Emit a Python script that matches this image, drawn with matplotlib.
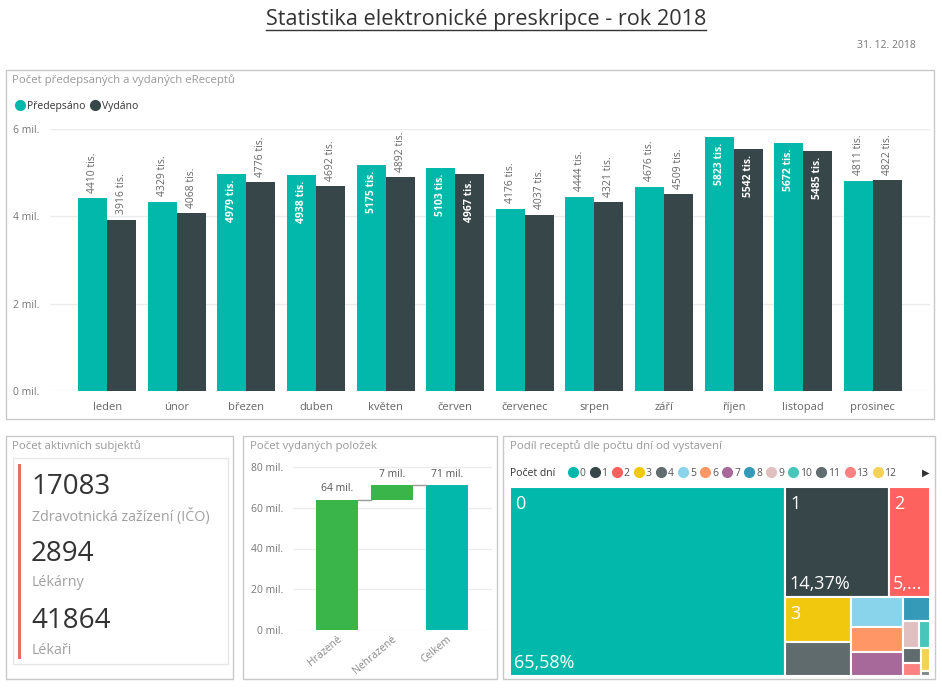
import numpy as np
import matplotlib
matplotlib.use("Agg")
import matplotlib.pyplot as plt
from matplotlib.patches import Rectangle
from matplotlib.lines import Line2D
from matplotlib import font_manager

# ---------------- data ----------------
months = ["leden", "únor", "březen", "duben", "květen", "červen",
          "červenec", "srpen", "září", "říjen", "listopad", "prosinec"]
predepsano = [4410, 4329, 4979, 4938, 5175, 5103, 4176, 4444, 4676, 5823, 5672, 4811]  # tis.
vydano = [3916, 4068, 4776, 4692, 4892, 4967, 4037, 4321, 4509, 5542, 5485, 4822]      # tis.

kpi_values = [17083, 2894, 41864]
kpi_labels = ["Zdravotnická zažízení (IČO)", "Lékárny", "Lékaři"]

wf_names = ["Hrazené", "Nehrazené"]
wf_values = [64, 7]  # mil.

days = ["0", "1", "2", "3", "4", "5", "6", "7", "8", "9", "10", "11", "13", "12", "14"]
day_share = [65.58, 14.37, 5.66, 3.75, 2.80, 1.95, 1.65, 1.60, 0.81, 0.50, 0.38, 0.33, 0.29, 0.27, 0.06]

# treemap slicing structure ('h' = side by side, 'v' = stacked)
TREE = ("h", ["0", ("v", [("h", ["1", "2"]),
                          ("h", [("v", ["3", "4"]),
                                 ("v", ["5", "6", "7"]),
                                 ("v", ["8", ("h", ["9", "10"]),
                                        ("h", [("v", ["11", "13"]), ("v", ["12", "14"])])])])])])

TEAL = "#01B8AA"
DARK = "#374649"
GREEN = "#3AB54A"
PALETTE = ["#01B8AA", "#374649", "#FD625E", "#F2C80F", "#5F6B6D", "#8AD4EB", "#FE9666",
           "#A66999", "#3599B8", "#DFBFBF", "#4AC5BB", "#5F6B6D", "#FB8281", "#F4D25A", "#7F898A"]

# ---------------- fonts ----------------
def have(name):
    try:
        font_manager.findfont(name, fallback_to_default=False)
        return True
    except Exception:
        return False

BASE = "Open Sans" if have("Open Sans") else "DejaVu Sans"
NARROW = "Liberation Sans Narrow" if have("Liberation Sans Narrow") else BASE
plt.rcParams["font.family"] = [BASE, "DejaVu Sans"]

W, H = 942, 688
fig = plt.figure(figsize=(W / 100, H / 100), dpi=100)
fig.patch.set_facecolor("white")


def ax_at(x0, y0, x1, y1):
    return fig.add_axes([x0 / W, 1 - y1 / H, (x1 - x0) / W, (y1 - y0) / H])


def ftext(x, y, s, **kw):
    return fig.text(x / W, 1 - y / H, s, **kw)


def frame(x0, y0, x1, y1, ec="#c8c8c8"):
    fig.add_artist(Rectangle((x0 / W, 1 - y1 / H), (x1 - x0) / W, (y1 - y0) / H,
                             transform=fig.transFigure, fill=False, ec=ec, lw=1))


# ---------------- title ----------------
title = ftext(486, 20, "Statistika elektronické preskripce - rok 2018", ha="center", va="center",
              fontsize=15.6, color="#333333")
ftext(916, 45, "31. 12. 2018", ha="right", va="center", fontsize=7.5, color="#777777")

# ---------------- top: bar chart ----------------
frame(6, 70, 934, 419)
ftext(12, 80, "Počet předepsaných a vydaných eReceptů", ha="left", va="center", fontsize=8.2, color="#999999")

ax = ax_at(50, 129, 930, 391)
x = np.arange(len(months))
bw = 0.417
b1 = ax.bar(x - bw / 2, predepsano, bw, color=TEAL, label="Předepsáno", zorder=2)
b2 = ax.bar(x + bw / 2, vydano, bw, color=DARK, label="Vydáno", zorder=2)
ax.set_xlim(-0.82, len(months) - 1 + 0.82)
ax.set_ylim(0, 6000)
ax.set_yticks([0, 2000, 4000, 6000], ["0 mil.", "2 mil.", "4 mil.", "6 mil."])
ax.set_xticks(x, months)
ax.tick_params(axis="y", length=0, pad=26.5, labelsize=7.5, labelcolor="#777777")
ax.tick_params(axis="x", length=0, pad=8, labelsize=8, labelcolor="#666666")
for t in ax.get_yticklabels():
    t.set_horizontalalignment("left")
for s in ax.spines.values():
    s.set_visible(False)
ax.grid(axis="y", color="#ebebeb", lw=1, zorder=0)

INSIDE_MIN = 4900
for bars, vals in [(b1, predepsano), (b2, vydano)]:
    for rect, v in zip(bars, vals):
        cx = rect.get_x() + rect.get_width() / 2
        if v > INSIDE_MIN:
            ax.annotate(f"{v} tis.", (cx, v), xytext=(0, -4), textcoords="offset points",
                        rotation=90, ha="center", va="top", fontsize=7.5, color="white",
                        fontweight="bold", family=NARROW)
        else:
            ax.annotate(f"{v} tis.", (cx, v), xytext=(0, 4), textcoords="offset points",
                        rotation=90, ha="center", va="bottom", fontsize=7.5, color="#666666",
                        family=NARROW, annotation_clip=False)

handles = [Line2D([], [], ls="", marker="o", ms=7, color=TEAL),
           Line2D([], [], ls="", marker="o", ms=7, color=DARK)]
fig.legend(handles, ["Předepsáno", "Vydáno"], loc="center left",
           bbox_to_anchor=(5 / W, 1 - 106 / H), ncol=2, frameon=False, fontsize=7.5,
           handlelength=1.0, handletextpad=0.2, columnspacing=0.4, labelcolor="#333333")

# ---------------- bottom left: KPI card ----------------
frame(6, 436, 233, 679)
ftext(12, 446, "Počet aktivních subjektů", ha="left", va="center", fontsize=8.2, color="#999999")
frame(13, 458, 228, 664, ec="#e6e6e6")
fig.add_artist(Rectangle((17.5 / W, 1 - 659 / H), 3 / W, (659 - 464) / H,
                         transform=fig.transFigure, color="#EF6A66", lw=0))
for i, (v, lab) in enumerate(zip(kpi_values, kpi_labels)):
    y0 = 487 + i * 67
    ftext(31, y0, str(v), ha="left", va="center", fontsize=20, color="#333333")
    ftext(32, y0 + 29, lab, ha="left", va="center", fontsize=10.3, color="#a0a0a0")

# ---------------- bottom middle: waterfall ----------------
frame(243, 436, 497, 679)
ftext(250, 446, "Počet vydaných položek", ha="left", va="center", fontsize=8.2, color="#999999")
ax2 = ax_at(293, 467, 492, 630)
total = sum(wf_values)
starts = list(np.cumsum([0] + wf_values[:-1])) + [0]
heights = wf_values + [total]
names = wf_names + ["Celkem"]
cols = [GREEN] * len(wf_values) + [TEAL]
xw = np.arange(len(names))
ww = 0.76
ax2.bar(xw, heights, ww, bottom=starts, color=cols, zorder=2)
tops = [s + h for s, h in zip(starts, heights)]
for i in range(len(names) - 1):
    ax2.plot([xw[i] + ww / 2, xw[i + 1] - ww / 2], [tops[i], tops[i]], color="#999999", lw=1, zorder=3)
for i, h in enumerate(heights):
    ax2.annotate(f"{h} mil.", (xw[i], tops[i]), xytext=(0, 4), textcoords="offset points",
                 ha="center", va="bottom", fontsize=7.5, color="#555555")
ax2.set_xlim(-0.8, len(names) - 1 + 0.82)
ax2.set_ylim(0, 80)
ax2.set_yticks([0, 20, 40, 60, 80], ["0 mil.", "20 mil.", "40 mil.", "60 mil.", "80 mil."])
ax2.set_xticks(xw, names)
ax2.tick_params(axis="y", length=0, pad=7, labelsize=7.5, labelcolor="#777777")
ax2.tick_params(axis="x", length=0, pad=3, labelsize=7.5, labelcolor="#888888")
for t in ax2.get_xticklabels():
    t.set_rotation(40)
    t.set_ha("right")
    t.set_rotation_mode("anchor")
for s in ax2.spines.values():
    s.set_visible(False)
ax2.grid(axis="y", color="#ebebeb", lw=1, zorder=0)

# ---------------- bottom right: treemap ----------------
frame(503, 436, 935, 679)
ftext(510, 446, "Podíl receptů dle počtu dní od vystavení", ha="left", va="center", fontsize=8.2, color="#999999")
TX0, TY0, TX1, TY1 = 510, 487, 930, 676
ax3 = ax_at(TX0, TY0, TX1, TY1)
ax3.set_xlim(0, 1)
ax3.set_ylim(1, 0)
ax3.axis("off")

share = dict(zip(days, day_share))
order = sorted(days, key=lambda d: -share[d])
color_of = {d: PALETTE[i] for i, d in enumerate(order)}
tot = sum(day_share)


def node_sum(node):
    if isinstance(node, str):
        return share[node]
    return sum(node_sum(c) for c in node[1])


def place(node, x0, y0, w, h, out):
    if isinstance(node, str):
        out.append((node, x0, y0, w, h))
        return
    d, kids = node
    s = node_sum(node)
    pos = 0.0
    for k in kids:
        f = node_sum(k) / s
        if d == "h":
            place(k, x0 + pos * w, y0, f * w, h, out)
        else:
            place(k, x0, y0 + pos * h, w, f * h, out)
        pos += f


rects = []
place(TREE, 0, 0, 1, 1, rects)
pw, ph = TX1 - TX0, TY1 - TY0
for d, rx, ry, rw, rh in rects:
    ax3.add_patch(Rectangle((rx, ry), rw, rh, facecolor=color_of[d], edgecolor="white", lw=1.5))
    wpx, hpx = rw * pw, rh * ph
    if wpx > 40 and hpx > 40:
        ax3.text(rx + 5 / pw, ry + 8 / ph, d, ha="left", va="top", fontsize=13, color="white")
    if hpx > 60:
        pct = f"{share[d] / tot * 100:.2f}%".replace(".", ",")
        if wpx < 60:
            pct = pct[:2] + "..."
        ax3.text(rx + 4 / pw, ry + rh - 4 / ph, pct, ha="left", va="bottom", fontsize=13, color="white")

ftext(510, 473, "Počet dní", ha="left", va="center", fontsize=7.5, color="#333333")
lh = [Line2D([], [], ls="", marker="o", ms=7, color=color_of[d]) for d in order[:14]]
fig.legend(lh, order[:14], loc="center left", bbox_to_anchor=(558 / W, 1 - 473 / H), ncol=14,
           frameon=False, fontsize=7.5, handlelength=1.0, handletextpad=0.15, columnspacing=0.4,
           labelcolor="#555555")
ftext(926, 473, "▶", ha="center", va="center", fontsize=7, color="#333333", family="DejaVu Sans")

# underline title
fig.canvas.draw()
bb = title.get_window_extent()
fig.add_artist(Line2D([bb.x0 / W, bb.x1 / W], [(bb.y0 + 1) / H, (bb.y0 + 1) / H],
                      transform=fig.transFigure, color="#333333", lw=1))

fig.savefig("out.png", dpi=100, facecolor="white")
